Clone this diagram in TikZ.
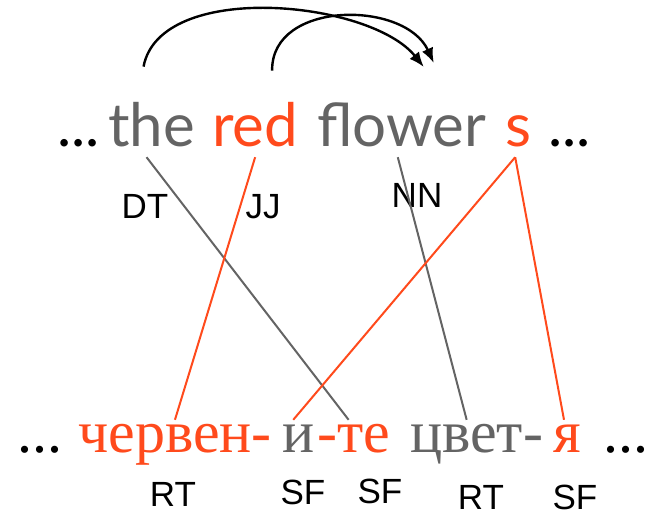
\documentclass[tikz,border=0pt]{standalone}
\usepackage{fontspec}
\newfontfamily\glossfont{Lato}
\newfontfamily\cyrfont{Liberation Serif}
\newfontfamily\tagfont{Liberation Sans}
\usetikzlibrary{arrows.meta,positioning,calc}
\definecolor{morphred}{HTML}{FF4A1C}
\definecolor{morphgray}{HTML}{646464}

\begin{document}
\begin{tikzpicture}[x=1pt,y=-1pt,>=Latex,
  en/.style={anchor=base west,inner sep=0pt,text depth=10pt,font=\glossfont\fontsize{60}{60}\selectfont},
  bg/.style={anchor=base west,inner sep=0pt,text height=32pt,font=\cyrfont\fontsize{60}{60}\selectfont},
  tag/.style={inner sep=0pt,font=\tagfont\fontsize{35}{35}\selectfont},
  link/.style={line width=2pt},
  jump/.style={line width=2.4pt,-{Latex[length=15pt,width=12pt]}}]
\useasboundingbox (0,0) rectangle (647,513);
% english line
\node[en] (edotsl) at (57,147) {...};
\node[en,text=morphgray] (the) at (108,147) {the};
\node[en,text=morphred] (red) at (212,147) {red};
\node[en,text=morphgray] (flower) at (317,147) {flower};
\node[en,text=morphred] (s) at (505,147) {s};
\node[en] (edotsr) at (548,147) {...};
% bulgarian line
\node[bg] (bdotsl) at (17,452) {...};
\node[bg,text=morphred] (cherven) at (78,452) {червен-};
\node[bg,text=morphgray] (i) at (282,452) {и};
\node[bg,text=morphred] (te) at (317,452) {-те};
\node[bg,text=morphgray] (cvet) at (410,452) {цвет-};
\node[bg,text=morphred] (ya) at (553,452) {я};
\node[bg] (bdotsr) at (603,452) {...};
% tags
\node[tag] (dt) at (145,206) {DT};
\node[tag] (jj) at (263,207) {JJ};
\node[tag] (nn) at (417,195) {NN};
\node[tag] (rt1) at (173,494) {RT};
\node[tag] (sf1) at (303,492) {SF};
\node[tag] (sf2) at (380,491) {SF};
\node[tag] (rt2) at (481,497) {RT};
\node[tag] (sf3) at (575,497) {SF};
% alignment links
\draw[link,morphgray] ([xshift=-5pt]the.south) -- ([xshift=-5pt]te.north);
\draw[link,morphred] (red.south) -- (cherven.north);
\draw[link,morphgray] ([xshift=-4pt]flower.south) -- ([xshift=-10pt]cvet.north);
\draw[link,morphred] ([xshift=-3pt]s.south) -- ([xshift=-5pt]i.north);
\draw[link,morphred] ([xshift=-3pt]s.south) -- ([xshift=-3pt]ya.north);
% reordering arcs
\coordinate (tipa) at ($(flower.north)+(22,-36)$);
\coordinate (tipb) at ($(flower.north)+(32,-40)$);
\draw[jump] ($(the.north)+(-8,-36)$) .. controls (160,-20) and (370,0) .. (tipa);
\draw[jump] ($(red.north)+(17,-32)$) .. controls (271,0) and (405,0) .. (tipb);
\end{tikzpicture}
\end{document}
